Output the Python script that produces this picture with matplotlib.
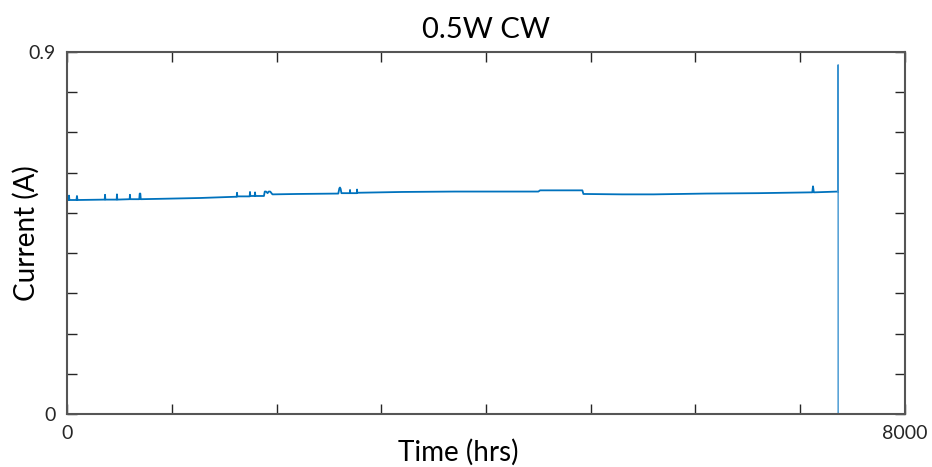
import matplotlib.pyplot as plt

# hours vs current
hours = [0, 0, 15, 19, 23, 90, 95, 100, 360, 363, 366, 474, 477, 480,
         598, 601, 604, 690, 694, 700, 704, 900, 1270, 1600, 1620, 1623,
         1626, 1744, 1747, 1750, 1792, 1795, 1798, 1880, 1888, 1900, 1915,
         1925, 1940, 1955, 1962, 2200, 2590, 2600, 2606, 2612, 2620, 2700,
         2702, 2704, 2767, 2769, 2771, 3200, 3700, 4500, 4516, 4920, 4930,
         5300, 5600, 6100, 6600, 7100, 7115, 7122, 7130, 7361, 7362, 7362]
current = [0, 0.532, 0.532, 0.543, 0.532, 0.532, 0.542, 0.532, 0.533, 0.545,
           0.533, 0.533, 0.546, 0.533, 0.534, 0.545, 0.534, 0.534, 0.548,
           0.548, 0.534, 0.535, 0.537, 0.540, 0.540, 0.550, 0.541, 0.541,
           0.552, 0.542, 0.542, 0.551, 0.542, 0.542, 0.553, 0.553, 0.549,
           0.553, 0.553, 0.548, 0.546, 0.547, 0.548, 0.561, 0.563, 0.560,
           0.549, 0.549, 0.557, 0.549, 0.549, 0.558, 0.550, 0.552, 0.553,
           0.553, 0.556, 0.556, 0.547, 0.546, 0.546, 0.548, 0.549, 0.551,
           0.551, 0.566, 0.551, 0.553, 0.868, 0.0]

fig = plt.figure(figsize=(9.32, 4.67), dpi=100)
ax = fig.add_axes([0.0719, 0.1135, 0.8991, 0.7752])

ax.plot(hours[:-2], current[:-2], color='#0072BD', linewidth=1.3)
# end-of-test spike drawn thinner, as in the original
ax.plot(hours[-3:], current[-3:], color='#3c93d0', linewidth=1.0)

ax.set_xlim(0, 8000)
ax.set_ylim(0, 0.9)
ax.set_xticks(range(0, 8001, 1000))
ax.set_xticklabels(['0', '', '', '', '', '', '', '', '8000'])
ax.set_yticks([i / 10 for i in range(10)])
ax.set_yticklabels(['0', '', '', '', '', '', '', '', '', '0.9'])
ax.tick_params(direction='in', length=7, width=1, colors='#262626',
               top=True, right=True, labelsize=14, pad=8)
for s in ax.spines.values():
    s.set_color('#555555')
    s.set_linewidth(1.5)

for lab in ax.get_xticklabels() + ax.get_yticklabels():
    lab.set_family('Lato')

ax.set_xlabel('Time (hrs)', fontsize=20, family='Lato', labelpad=-2)
ax.xaxis.label.set_x(0.467)
ax.set_ylabel('Current (A)', fontsize=20, family='Lato', labelpad=-8)
ax.set_title('0.5W CW', fontsize=21, family='Lato', pad=10)

fig.savefig('out.png')
